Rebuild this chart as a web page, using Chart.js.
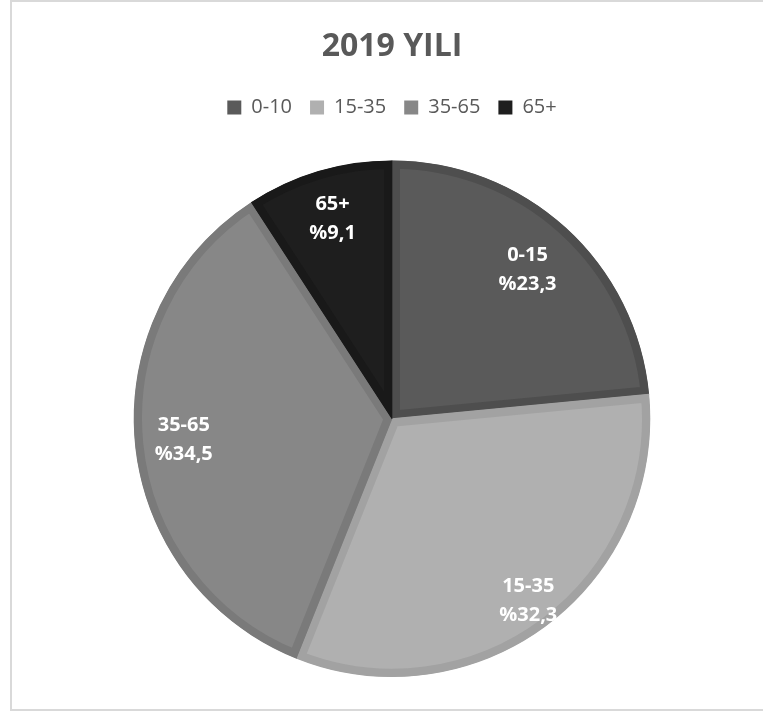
<!DOCTYPE html>
<html>
<head>
<meta charset="utf-8">
<script src="https://cdn.jsdelivr.net/npm/chart.js@4/dist/chart.umd.min.js"></script>
<style>
  body { margin: 0; background: #fff; }
  #frame {
    position: absolute;
    left: 10px;
    top: 0;
    width: 760px;
    height: 707px;
    border-left: 2px solid #d9d9d9;
    border-top: 2px solid #d9d9d9;
    border-bottom: 2px solid #d9d9d9;
  }
  #frame canvas { display: block; }
</style>
</head>
<body>
<div id="frame">
  <canvas id="pie-chart" width="751" height="707"></canvas>
</div>
<script>
const legendLabels = ['0-10', '15-35', '35-65', '65+'];
const sliceNames = ['0-15', '15-35', '35-65', '65+'];
const shares = [23.3, 32.3, 34.5, 9.1];

const fillColors = ['#5a5a5a', '#b0b0b0', '#878787', '#1e1e1e'];
const edgeColors = ['#4e4e4e', '#a2a2a2', '#7a7a7a', '#191919'];
// how far out along the radius each label sits
const labelDepth = [0.78, 0.88, 0.81, 0.81];

// draws "name / %value" inside each slice
const sliceLabels = {
    id: 'sliceLabels',
    afterDatasetsDraw(chart) {
        const ctx = chart.ctx;
        const meta = chart.getDatasetMeta(0);
        ctx.save();
        ctx.fillStyle = '#ffffff';
        ctx.font = 'bold 20px "Open Sans"';
        ctx.textAlign = 'center';
        ctx.textBaseline = 'middle';
        meta.data.forEach((arc, i) => {
            const p = arc.getProps(['x', 'y', 'startAngle', 'endAngle', 'outerRadius'], true);
            const mid = (p.startAngle + p.endAngle) / 2;
            const r = p.outerRadius * labelDepth[i];
            const x = p.x + Math.cos(mid) * r;
            const y = p.y + Math.sin(mid) * r;
            const pct = '%' + shares[i].toFixed(1).replace('.', ',');
            ctx.fillText(sliceNames[i], x, y - 14);
            ctx.fillText(pct, x, y + 15);
        });
        ctx.restore();
    }
};

// extra room under the legend
const legendGap = {
    id: 'legendGap',
    beforeInit(chart) {
        const fit = chart.legend.fit;
        chart.legend.fit = function () {
            fit.bind(chart.legend)();
            this.height += 33;
        };
    }
};

new Chart(document.getElementById('pie-chart'), {
    type: 'pie',
    data: {
        labels: legendLabels,
        datasets: [{
            data: shares,
            backgroundColor: fillColors,
            borderColor: edgeColors,
            borderWidth: 8,
            borderAlign: 'inner'
        }]
    },
    options: {
        responsive: false,
        animation: false,
        layout: {
            padding: { left: 9, right: 0, bottom: 32, top: 0 }
        },
        plugins: {
            title: {
                display: true,
                text: '2019 YILI',
                color: '#595959',
                font: { family: 'Open Sans', size: 32, weight: 'bold' },
                padding: { top: 26, bottom: 13 }
            },
            legend: {
                position: 'top',
                labels: {
                    color: '#595959',
                    font: { family: 'Open Sans', size: 20 },
                    boxWidth: 14,
                    boxHeight: 14,
                    padding: 18,
                    generateLabels(chart) {
                        return legendLabels.map((text, i) => ({
                            text: text,
                            fillStyle: fillColors[i],
                            strokeStyle: fillColors[i],
                            lineWidth: 0,
                            fontColor: '#595959',
                            index: i
                        }));
                    }
                }
            },
            tooltip: { enabled: false }
        }
    },
    plugins: [sliceLabels, legendGap]
});
</script>
</body>
</html>
